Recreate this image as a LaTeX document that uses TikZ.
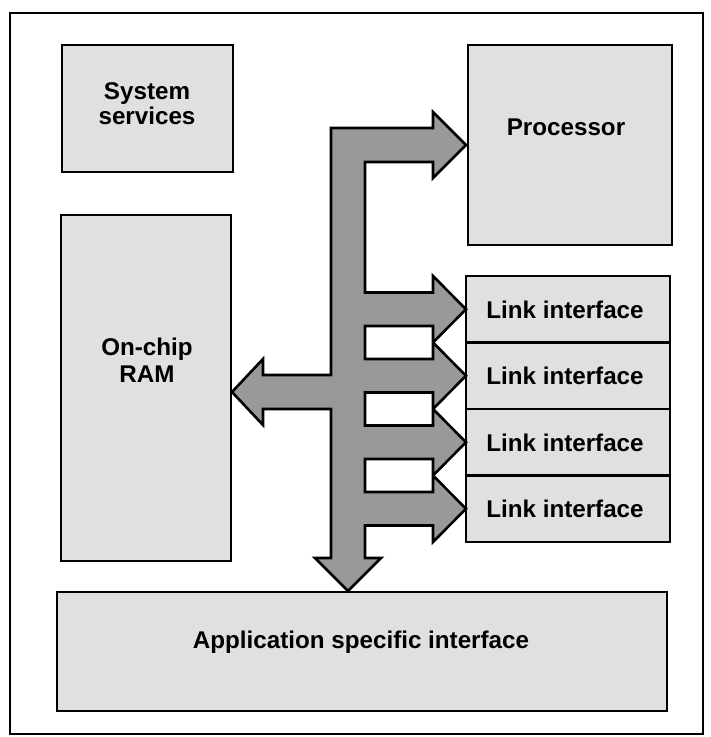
\documentclass[tikz,border=0pt]{standalone}
\usepackage{fontspec}
\setmainfont{Liberation Sans}
\begin{document}
\begin{tikzpicture}[x=1pt,y=-1pt,
  box/.style={draw=black, line width=2.6pt, fill=black!12, inner sep=0pt, outer sep=0pt, anchor=north west},
  lbl/.style={font=\bfseries\fontsize{24.2}{26}\selectfont, anchor=base, inner sep=0pt},
  bus/.style={draw=black, line width=2.6pt, fill=black!40, line join=miter, miter limit=10},
  frame/.style={draw=black, line width=2pt}]
\useasboundingbox (0,0) rectangle (711,737);
% outer frame
\draw[frame] (10,734) -- (10,13) -- (703,13) -- (703,734) -- cycle;
% boxes
\node[box, minimum width=171pt, minimum height=127pt] (sys) at (62,45) {};
\node[box, minimum width=204pt, minimum height=200pt] (proc) at (468,45) {};
\node[box, minimum width=170pt, minimum height=346pt] (ram) at (61,215) {};
\node[box, minimum width=204pt, minimum height=66.5pt] (link1) at (466,276) {};
\node[box, minimum width=204pt, minimum height=66.5pt] (link2) at (466,342.5) {};
\node[box, minimum width=204pt, minimum height=66.5pt] (link3) at (466,409) {};
\node[box, minimum width=204pt, minimum height=66.5pt] (link4) at (466,475.5) {};
\node[box, minimum width=610pt, minimum height=119pt] (app) at (57,592) {};
% labels
\node[lbl] (tsys1) at (147,99) {System};
\node[lbl] (tsys2) at (147,124.5) {services};
\node[lbl] (tproc) at (566,135) {Processor};
\node[lbl] (tram1) at (147,355) {On-chip};
\node[lbl] (tram2) at (147,382) {RAM};
\node[lbl] (tl1) at (565,318) {Link interface};
\node[lbl] (tl2) at (565,384.5) {Link interface};
\node[lbl] (tl3) at (565,451) {Link interface};
\node[lbl] (tl4) at (565,517.5) {Link interface};
\node[lbl] (tapp) at (361,648) {Application specific interface};
% bus arrow
\draw[bus] (331,128) -- (433,128) -- (433,112) -- (466,145) -- (433,178) -- (433,162)
  -- (365,162) -- (365,292.5) -- (433,292.5) -- (433,276) -- (466,309.25)
  -- (433,342.5) -- (433,326) -- (365,326) -- (365,359) -- (433,359) -- (433,342.5)
  -- (466,375.75) -- (433,409) -- (433,392.5) -- (365,392.5) -- (365,425.5) -- (433,425.5) -- (433,409)
  -- (466,442.25) -- (433,475.5) -- (433,459) -- (365,459) -- (365,492) -- (433,492) -- (433,475.5)
  -- (466,508.75) -- (433,542) -- (433,525.5) -- (365,525.5)
  -- (365,558) -- (381,558) -- (348,591) -- (315,558) -- (331,558)
  -- (331,409) -- (263,409) -- (263,425) -- (232,392) -- (263,359) -- (263,375) -- (331,375)
  -- cycle;
\end{tikzpicture}
\end{document}
